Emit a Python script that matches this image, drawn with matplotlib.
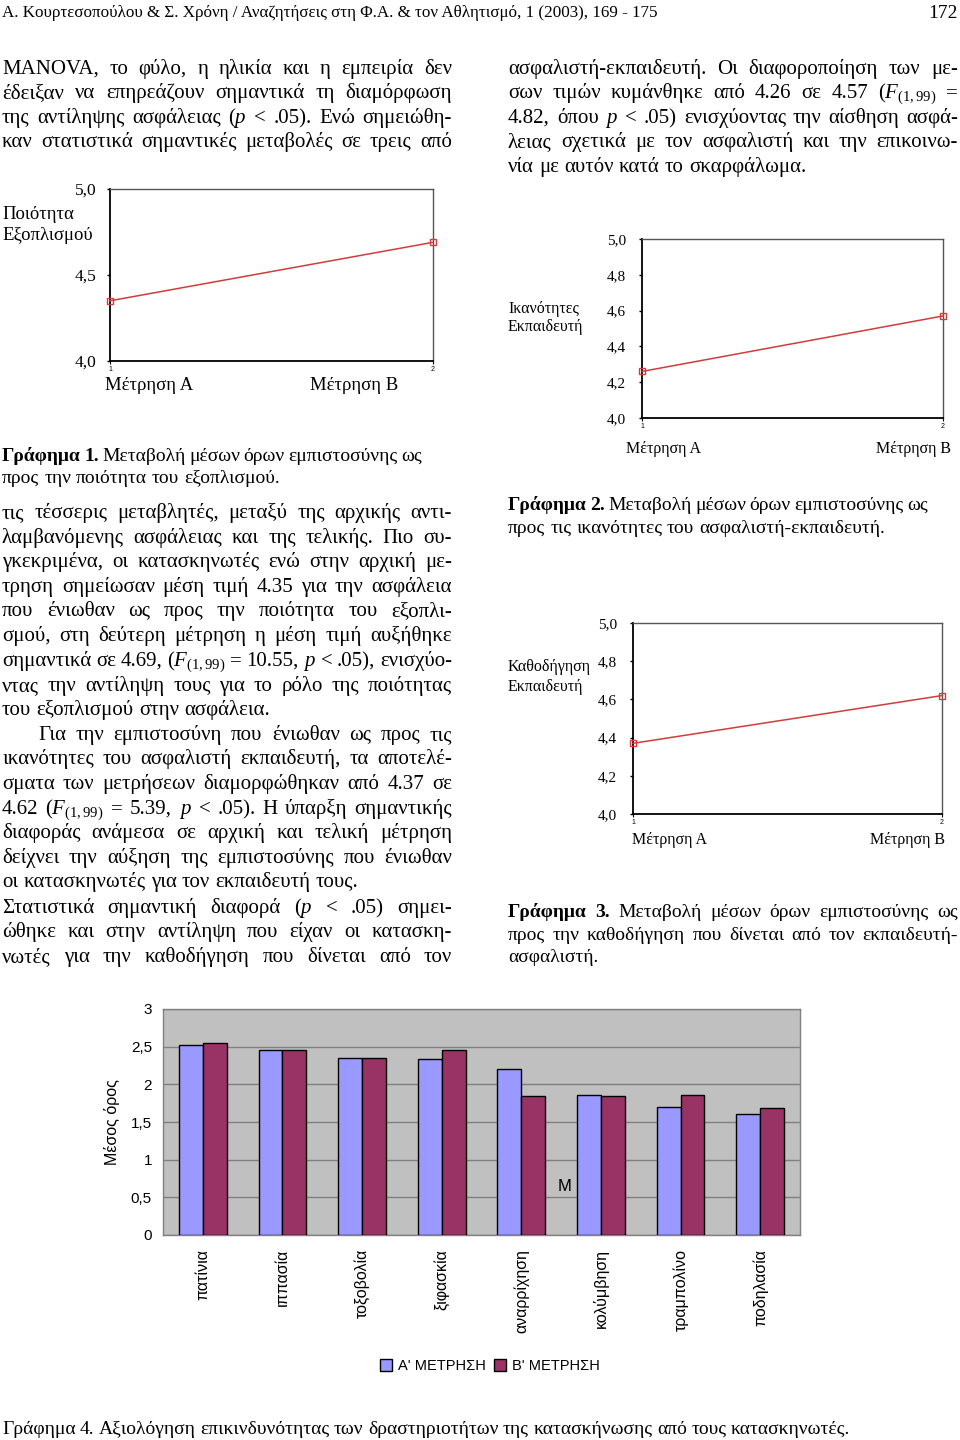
import matplotlib
matplotlib.use("Agg")
import matplotlib.pyplot as plt
import numpy as np

# ---- chart data ----
measures = ["Μέτρηση Α", "Μέτρηση Β"]
equipment = [4.35, 4.69]
trainer_skills = [4.26, 4.57]
guidance = [4.37, 4.62]

activities = ["πατίνια", "ιππασία", "τοξοβολία", "ξιφασκία",
              "αναρρίχηση", "κολύμβηση", "τραμπολίνο", "ποδηλασία"]
first_measure = [2.52, 2.45, 2.35, 2.33, 2.21, 1.86, 1.70, 1.60]
second_measure = [2.55, 2.45, 2.35, 2.45, 1.84, 1.84, 1.86, 1.68]
bar_yticks = [0, 0.5, 1, 1.5, 2, 2.5, 3]
bar_ylabels = ["0", "0,5", "1", "1,5", "2", "2,5", "3"]
legend_labels = ["Α' ΜΕΤΡΗΣΗ", "Β' ΜΕΤΡΗΣΗ"]

# ---- page text ----
header = "Α. Κουρτεσοπούλου & Σ. Χρόνη / Αναζητήσεις στη Φ.Α. & τον Αθλητισμό, 1 (2003), 169 - 175"
F = r"($F_{\mathrm{(1,99)}}$"

left_top = [
    (68, "MANOVA, το φύλο, η ηλικία και η εμπειρία δεν", 452),
    (92, "έδειξαν να επηρεάζουν σημαντικά τη διαμόρφωση", 452),
    (117, "της αντίληψης ασφάλειας ($p$ < .05). Ενώ σημειώθη-", 452),
    (141, "καν στατιστικά σημαντικές μεταβολές σε τρεις από", 452),
]
left_body = [
    (512, "τις τέσσερις μεταβλητές, μεταξύ της αρχικής αντι-", 452),
    (537, "λαμβανόμενης ασφάλειας και της τελικής. Πιο συ-", 452),
    (561, "γκεκριμένα, οι κατασκηνωτές ενώ στην αρχική με-", 452),
    (586, "τρηση σημείωσαν μέση τιμή 4.35 για την ασφάλεια", 452),
    (610, "που ένιωθαν ως προς την ποιότητα του εξοπλι-", 452),
    (635, "σμού, στη δεύτερη μέτρηση η μέση τιμή αυξήθηκε", 452),
    (660, "σημαντικά σε 4.69, " + F + " = 10.55, $p$ < .05), ενισχύο-", 452),
    (685, "ντας την αντίληψη τους για το ρόλο της ποιότητας", 452),
    (709, "του εξοπλισμού στην ασφάλεια.", None),
    (734, "Για την εμπιστοσύνη που ένιωθαν ως προς τις", 452),
    (758, "ικανότητες του ασφαλιστή εκπαιδευτή, τα αποτελέ-", 452),
    (783, "σματα των μετρήσεων διαμορφώθηκαν από 4.37 σε", 452),
    (808, "4.62 " + F + " = 5.39, $p$ < .05). Η ύπαρξη σημαντικής", 452),
    (832, "διαφοράς ανάμεσα σε αρχική και τελική μέτρηση", 452),
    (857, "δείχνει την αύξηση της εμπιστοσύνης που ένιωθαν", 452),
    (881, "οι κατασκηνωτές για τον εκπαιδευτή τους.", None),
    (907, "Στατιστικά σημαντική διαφορά ($p$ < .05) σημει-", 452),
    (931, "ώθηκε και στην αντίληψη που είχαν οι κατασκη-", 452),
    (956, "νωτές για την καθοδήγηση που δίνεται από τον", 452),
]
right_top = [
    (68, "ασφαλιστή-εκπαιδευτή. Οι διαφοροποίηση των με-", 958),
    (92, "σων τιμών κυμάνθηκε από 4.26 σε 4.57 " + F + " =", 958),
    (117, "4.82, όπου $p$ < .05) ενισχύοντας την αίσθηση ασφά-", 958),
    (141, "λειας σχετικά με τον ασφαλιστή και την επικοινω-", 958),
    (166, "νία με αυτόν κατά το σκαρφάλωμα.", None),
]
cap1 = [(455, "§Γράφημα §1. Μεταβολή μέσων όρων εμπιστοσύνης ως", 422),
        (477, "προς την ποιότητα του εξοπλισμού.", None)]
cap2 = [(504, "§Γράφημα §2. Μεταβολή μέσων όρων εμπιστοσύνης ως", 928),
        (527, "προς τις ικανότητες του ασφαλιστή-εκπαιδευτή.", None)]
cap3 = [(911, "§Γράφημα §3. Μεταβολή μέσων όρων εμπιστοσύνης ως", 958),
        (934, "προς την καθοδήγηση που δίνεται από τον εκπαιδευτή-", 958),
        (956, "ασφαλιστή.", None)]
cap4 = [(1428, "Γράφημα 4. Αξιολόγηση επικινδυνότητας των δραστηριοτήτων της κατασκήνωσης από τους κατασκηνωτές.", 850)]

plt.rcParams['mathtext.fontset'] = 'custom'
plt.rcParams['mathtext.rm'] = 'Liberation Serif'
plt.rcParams['mathtext.it'] = 'Liberation Serif:italic'
plt.rcParams['mathtext.bf'] = 'Liberation Serif:bold'

W, H = 960, 1440
fig = plt.figure(figsize=(9.6, 14.4), dpi=100)
renderer = fig.canvas.get_renderer()
SERIF = 'Liberation Serif'
SANS = 'Liberation Sans'


def fx(x):
    return x / W


def fy(y):
    return 1 - y / H


def put_line(x0, y, s, size, x1=None):
    # draw word by word so the line can be justified
    arts = []
    for t in s.split(' '):
        if not t:
            continue
        weight = 'normal'
        if t.startswith('§'):
            weight = 'bold'
            t = t[1:]
        a = fig.text(fx(x0), fy(y + 6), t, fontsize=size, family=SERIF,
                     fontweight=weight, va='baseline', ha='left')
        arts.append(a)
    widths = [a.get_window_extent(renderer).width for a in arts]
    em = size * 100 / 72
    gap = 0.25 * em
    if x1 is not None and len(arts) > 1:
        gap = max((x1 - x0 - sum(widths)) / (len(arts) - 1), 0.12 * em)
    x = x0
    for a, w in zip(arts, widths):
        a.set_x(fx(x))
        x += w + gap


def put_block(lines, x0, size, indent=None):
    for y, s, x1 in lines:
        start = x0
        if indent and y in indent:
            start = x0 + indent[y]
        put_line(start, y, s, size, x1)


# header
h = fig.text(fx(2), fy(17), header, fontsize=13, family=SERIF, va='baseline')
hw = h.get_window_extent(renderer).width
h.set_fontsize(13 * 653 / hw)
fig.text(fx(958), fy(18), "172", fontsize=14, family=SERIF, va='baseline', ha='right')

put_block(left_top, 2, 15)
put_block(left_body, 2, 15, indent={734: 36})
put_block(right_top, 508, 15)
put_block(cap1, 2, 14)
put_block(cap2, 508, 14)
put_block(cap3, 508, 14)
put_block(cap4, 2, 14)

line_col = '#d23c3c'


def line_chart(box, values, ticks, ticklabels, size, pad, ylab, ylab_xy, ylab_size, ylab_ls,
               mlab_y, mlab_x, mlab_size):
    l, t, r, b = box
    ax = fig.add_axes([fx(l), fy(b), (r - l) / W, (b - t) / H])
    ax.plot([1, 2], values, color=line_col, lw=1.1, marker='s', ms=4.5,
            mfc='none', mec=line_col, mew=1, clip_on=False, zorder=3)
    ax.set_xlim(1, 2)
    ax.set_ylim(ticks[0], ticks[-1])
    ax.set_yticks(ticks)
    ax.set_yticklabels(ticklabels, fontsize=size, family=SERIF)
    ax.tick_params(axis='y', length=2.5, width=1, pad=pad)
    ax.set_xticks([1, 2])
    ax.set_xticklabels(["1", "2"], fontsize=5, family=SANS)
    ax.tick_params(axis='x', length=2, width=0.8, pad=1.5)
    for side in ['left', 'bottom']:
        ax.spines[side].set_color('black')
        ax.spines[side].set_linewidth(1.3)
    for side in ['top', 'right']:
        ax.spines[side].set_color('#555555')
        ax.spines[side].set_linewidth(1.0)
    fig.text(fx(ylab_xy[0]), fy(ylab_xy[1]), ylab, fontsize=ylab_size, family=SERIF,
             va='top', ha='left', linespacing=ylab_ls)
    for x, m in zip(mlab_x, measures):
        fig.text(fx(x), fy(mlab_y), m, fontsize=mlab_size, family=SERIF, va='center', ha='left')
    return ax


line_chart((110, 189, 433, 361), equipment, [4.0, 4.5, 5.0], ["4,0", "4,5", "5,0"],
           12.5, 7, "Ποιότητα\nΕξοπλισμού", (2, 206), 13.5, 1.3, 386, [105, 310], 13.5)
line_chart((642, 239, 943, 418), trainer_skills, [4.0, 4.2, 4.4, 4.6, 4.8, 5.0],
           ["4,0", "4,2", "4,4", "4,6", "4,8", "5,0"],
           11, 9, "Ικανότητες\nΕκπαιδευτή", (508, 301), 11.5, 1.2, 449, [626, 876], 11.5)
line_chart((633, 623, 942, 814), guidance, [4.0, 4.2, 4.4, 4.6, 4.8, 5.0],
           ["4,0", "4,2", "4,4", "4,6", "4,8", "5,0"],
           11, 9, "Καθοδήγηση\nΕκπαιδευτή", (508, 659), 11.5, 1.3, 840, [632, 870], 11.5)

# ---- bar chart ----
bx = fig.add_axes([fx(163), fy(1235), (800 - 163) / W, (1235 - 1009) / H])
bx.set_facecolor('#c0c0c0')
xpos = np.arange(len(activities))
bw = 0.3
bx.bar(xpos - bw / 2, first_measure, bw, color='#9999ff', edgecolor='black', lw=1,
       label=legend_labels[0], zorder=3)
bx.bar(xpos + bw / 2, second_measure, bw, color='#993366', edgecolor='black', lw=1,
       label=legend_labels[1], zorder=3)
bx.set_xlim(-0.5, len(activities) - 0.5)
bx.set_ylim(0, 3)
bx.set_yticks(bar_yticks)
bx.set_yticklabels(bar_ylabels, fontsize=11, family=SANS)
bx.yaxis.grid(True, color='#808080', lw=1, zorder=0)
bx.set_axisbelow(True)
bx.tick_params(axis='y', length=0, pad=8)
bx.set_xticks(xpos)
bx.set_xticklabels(activities, rotation=90, fontsize=11.5, family=SANS, va='top')
bx.tick_params(axis='x', length=0, pad=10)
for s in bx.spines.values():
    s.set_color('#808080')
    s.set_linewidth(1)
bx.set_ylabel("Μέσος όρος", fontsize=11.5, family=SANS, labelpad=8)
bx.text(4.45, 0.65, "M", fontsize=12, family=SANS, va='center', ha='left')
bx.legend(loc='center', bbox_to_anchor=(fx(490), fy(1366)), bbox_transform=fig.transFigure,
          ncol=2, frameon=False, prop={'family': SANS, 'size': 10.5},
          handlelength=0.8, handleheight=0.8, handletextpad=0.4, columnspacing=0.6)

fig.savefig('out.png', dpi=100, facecolor='white')
